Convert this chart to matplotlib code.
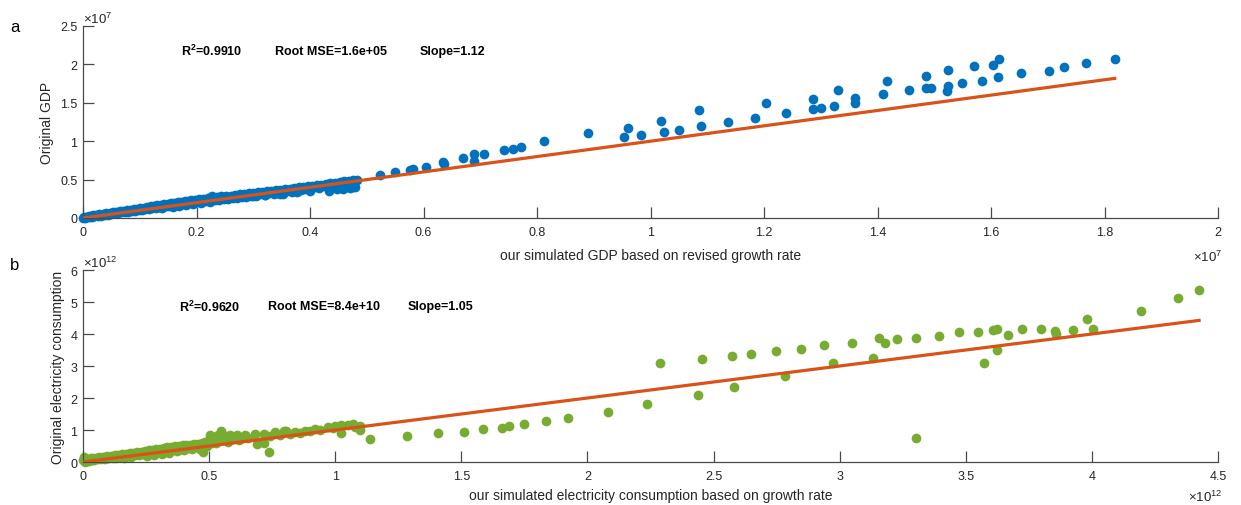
import matplotlib
matplotlib.use('Agg')
import matplotlib.pyplot as plt
from matplotlib.ticker import FuncFormatter

plt.rcParams['font.family'] = ['Liberation Sans', 'DejaVu Sans']
plt.rcParams['mathtext.default'] = 'regular'

GDP_UNIT = 1e7
ELEC_UNIT = 1e12

# ---- panel a: GDP (values in units of 1e7) ----
gdp_sim = [0.000, 0.002, 0.004, 0.006, 0.008, 0.010, 0.012, 0.014, 0.016, 0.018, 0.020, 0.023, 0.026, 0.029,
           0.032, 0.035, 0.038, 0.041, 0.044, 0.047, 0.050, 0.053, 0.056, 0.059, 0.062, 0.065, 0.068, 0.071,
           0.074, 0.077, 0.080, 0.083, 0.086, 0.089, 0.092, 0.095, 0.098, 0.101, 0.104, 0.107, 0.110, 0.113,
           0.116, 0.119, 0.122, 0.125, 0.128, 0.131, 0.134, 0.137, 0.140, 0.143, 0.146, 0.149, 0.152, 0.155,
           0.158, 0.161, 0.164, 0.167, 0.170, 0.173, 0.176, 0.179, 0.182, 0.185, 0.188, 0.191, 0.194, 0.197,
           0.200, 0.204, 0.208, 0.212, 0.216, 0.220, 0.224, 0.228, 0.232, 0.236, 0.240, 0.244, 0.248, 0.252,
           0.256, 0.260, 0.264, 0.268, 0.272, 0.276, 0.280, 0.284, 0.288, 0.292, 0.296, 0.300, 0.304, 0.308,
           0.312, 0.316, 0.320, 0.324, 0.328, 0.332, 0.336, 0.340, 0.344, 0.348, 0.353, 0.356, 0.360, 0.364,
           0.368, 0.372, 0.376, 0.380, 0.384, 0.388, 0.392, 0.396, 0.400, 0.404, 0.408, 0.412, 0.416, 0.420,
           0.424, 0.428, 0.433, 0.436, 0.440, 0.444, 0.448, 0.452, 0.456, 0.460, 0.464, 0.468, 0.472, 0.476,
           0.480, 0.483, 0.470, 0.300, 0.320, 0.347, 0.377, 0.400, 0.459, 0.476,
           0.523, 0.550, 0.577, 0.582, 0.604, 0.635, 0.637, 0.670, 0.689, 0.689, 0.707, 0.741, 0.758, 0.772,
           0.813, 0.889, 0.953, 0.961, 0.983, 1.018, 1.023, 1.051, 1.086, 1.089, 1.136, 1.184, 1.203, 1.239,
           1.287, 1.287, 1.300, 1.324, 1.331, 1.360, 1.360, 1.409, 1.417, 1.456, 1.485, 1.486, 1.495, 1.523,
           1.525, 1.525, 1.549, 1.570, 1.585, 1.603, 1.614, 1.613, 1.653, 1.702, 1.729, 1.768, 1.818]
gdp_orig = [0.004, 0.012, 0.002, 0.018, 0.008, 0.025, 0.014, 0.030, 0.010, 0.034, 0.022, 0.040, 0.028, 0.046,
            0.030, 0.052, 0.040, 0.060, 0.045, 0.066, 0.052, 0.072, 0.060, 0.080, 0.062, 0.088, 0.072, 0.094,
            0.078, 0.100, 0.084, 0.108, 0.088, 0.114, 0.096, 0.122, 0.100, 0.128, 0.108, 0.136, 0.112, 0.142,
            0.120, 0.150, 0.124, 0.156, 0.132, 0.164, 0.138, 0.172, 0.130, 0.188, 0.150, 0.184, 0.156, 0.192,
            0.148, 0.198, 0.170, 0.204, 0.160, 0.212, 0.180, 0.218, 0.172, 0.226, 0.192, 0.232, 0.186, 0.240,
            0.204, 0.246, 0.196, 0.252, 0.218, 0.260, 0.210, 0.282, 0.236, 0.272, 0.228, 0.280, 0.250, 0.286,
            0.244, 0.292, 0.262, 0.300, 0.256, 0.306, 0.278, 0.312, 0.272, 0.320, 0.292, 0.326, 0.288, 0.334,
            0.306, 0.340, 0.300, 0.348, 0.322, 0.356, 0.316, 0.362, 0.338, 0.370, 0.316, 0.378, 0.350, 0.384,
            0.340, 0.392, 0.368, 0.398, 0.360, 0.406, 0.384, 0.412, 0.376, 0.420, 0.400, 0.428, 0.392, 0.436,
            0.414, 0.444, 0.346, 0.452, 0.426, 0.460, 0.380, 0.468, 0.440, 0.476, 0.402, 0.484, 0.450, 0.490,
            0.402, 0.500, 0.390, 0.285, 0.300, 0.312, 0.335, 0.356, 0.378, 0.400,
            0.560, 0.603, 0.625, 0.638, 0.668, 0.725, 0.699, 0.777, 0.829, 0.746, 0.833, 0.885, 0.903, 0.920,
            1.003, 1.103, 1.050, 1.172, 1.077, 1.265, 1.120, 1.150, 1.404, 1.194, 1.246, 1.306, 1.501, 1.367,
            1.548, 1.419, 1.436, 1.462, 1.665, 1.561, 1.497, 1.613, 1.782, 1.661, 1.847, 1.687, 1.687, 1.657,
            1.713, 1.925, 1.756, 1.981, 1.786, 1.994, 2.067, 1.830, 1.890, 1.920, 1.964, 2.024, 2.067]
gdp_fit_slope = 1.0
gdp_stats = ['R$^2$=0.9910', 'Root MSE=1.6e+05', 'Slope=1.12']

# ---- panel b: electricity (values in units of 1e12) ----
elec_sim = [0.000, 0.005, 0.008, 0.010, 0.015, 0.020, 0.025, 0.030, 0.035, 0.040, 0.045, 0.050, 0.058, 0.065,
            0.072, 0.080, 0.088, 0.095, 0.102, 0.110, 0.118, 0.125, 0.132, 0.140, 0.148, 0.155, 0.162, 0.170,
            0.178, 0.185, 0.192, 0.200, 0.208, 0.215, 0.222, 0.230, 0.238, 0.245, 0.252, 0.260, 0.268, 0.275,
            0.282, 0.290, 0.297, 0.305, 0.312, 0.320, 0.328, 0.335, 0.342, 0.350, 0.358, 0.365, 0.372, 0.380,
            0.388, 0.395, 0.402, 0.410, 0.418, 0.425, 0.432, 0.440, 0.448, 0.455, 0.462, 0.470, 0.477, 0.485,
            0.492, 0.500, 0.505, 0.512, 0.520, 0.528, 0.535, 0.547, 0.555, 0.565, 0.575, 0.583, 0.595, 0.610,
            0.620, 0.643, 0.655, 0.683, 0.690, 0.696, 0.716, 0.716, 0.737, 0.740, 0.762, 0.780, 0.797, 0.806,
            0.820, 0.840, 0.860, 0.880, 0.900, 0.920, 0.940, 0.970, 0.990, 1.000, 1.024, 1.024, 1.050, 1.070,
            1.080, 1.098, 1.100,
            1.138, 1.285, 1.407, 1.512, 1.586, 1.661, 1.689, 1.748, 1.836, 1.922, 2.081, 2.235, 2.287, 2.440,
            2.455, 2.574, 2.580, 2.649, 2.748, 2.785, 2.848, 2.939, 2.973, 3.047, 3.132, 3.154, 3.179, 3.227,
            3.302, 3.302, 3.393, 3.475, 3.550, 3.572, 3.608, 3.625, 3.625, 3.666, 3.723, 3.798, 3.854, 3.857,
            3.926, 3.980, 4.006, 4.196, 4.343, 4.425]
elec_orig = [0.050, 0.150, 0.000, 0.080, 0.020, 0.100, 0.040, 0.110, 0.060, 0.120, 0.050, 0.140, 0.080, 0.150,
             0.100, 0.170, 0.090, 0.180, 0.120, 0.200, 0.130, 0.210, 0.110, 0.230, 0.160, 0.240, 0.140, 0.260,
             0.180, 0.270, 0.150, 0.290, 0.210, 0.300, 0.220, 0.320, 0.240, 0.340, 0.200, 0.360, 0.270, 0.380,
             0.220, 0.400, 0.300, 0.420, 0.250, 0.440, 0.330, 0.460, 0.280, 0.480, 0.380, 0.500, 0.330, 0.510,
             0.420, 0.520, 0.380, 0.530, 0.440, 0.540, 0.400, 0.550, 0.470, 0.560, 0.420, 0.580, 0.312, 0.620,
             0.500, 0.700, 0.830, 0.600, 0.780, 0.600, 0.850, 0.957, 0.700, 0.820, 0.640, 0.850, 0.720, 0.830,
             0.680, 0.850, 0.760, 0.875, 0.550, 0.624, 0.875, 0.600, 0.312, 0.800, 0.940, 0.850, 0.957, 0.970,
             0.880, 0.940, 0.920, 0.960, 0.980, 1.040, 1.000, 1.080, 1.050, 1.140, 1.170, 0.894, 1.170, 1.190,
             1.100, 1.009, 1.120,
             0.728, 0.801, 0.894, 0.946, 1.019, 1.071, 1.113, 1.175, 1.279, 1.383, 1.560, 1.809, 3.109, 2.080,
             3.213, 3.307, 2.350, 3.390, 3.483, 2.683, 3.535, 3.650, 3.099, 3.723, 3.265, 3.879, 3.733, 3.847,
             0.749, 3.879, 3.941, 4.076, 4.076, 3.109, 4.128, 4.170, 3.504, 3.983, 4.159, 4.149, 4.107, 3.993,
             4.128, 4.461, 4.159, 4.710, 5.137, 5.376]
elec_fit_slope = 1.0
elec_stats = ['R$^2$=0.9620', 'Root MSE=8.4e+10', 'Slope=1.05']

# tick values
gdp_xticks = [0, 0.2, 0.4, 0.6, 0.8, 1, 1.2, 1.4, 1.6, 1.8, 2]
gdp_yticks = [0, 0.5, 1, 1.5, 2, 2.5]
elec_xticks = [0, 0.5, 1, 1.5, 2, 2.5, 3, 3.5, 4, 4.5]
elec_yticks = [0, 1, 2, 3, 4, 5, 6]

BLUE = '#0072BD'
GREEN = '#77AC30'
RED = '#D95319'
AXC = '#262626'
LINEC = '#4a4a4a'

W, H = 1241, 506
fig = plt.figure(figsize=(W / 100, H / 100), dpi=100)


def style(ax, unit, xt, yt):
    for s in ['top', 'right']:
        ax.spines[s].set_visible(False)
    for s in ['left', 'bottom']:
        ax.spines[s].set_color(LINEC)
        ax.spines[s].set_linewidth(0.9)
    ax.set_xticks([v * unit for v in xt])
    ax.set_yticks([v * unit for v in yt])
    fmt = FuncFormatter(lambda v, p: '%g' % round(v / unit, 6))
    ax.xaxis.set_major_formatter(fmt)
    ax.yaxis.set_major_formatter(fmt)
    ax.set_xlim(xt[0] * unit, xt[-1] * unit)
    ax.set_ylim(yt[0] * unit, yt[-1] * unit)
    ax.tick_params(direction='in', length=8, width=0.9, color=LINEC, labelcolor=AXC, labelsize=9)
    ax.tick_params(axis='x', pad=6)
    ax.tick_params(axis='y', pad=4)


def panel(rect, xs, ys, unit, color, slope, stats, stat_pos, xt, yt, xlabel, ylabel, exp, ylab_x, xpad):
    ax = fig.add_axes(rect)
    style(ax, unit, xt, yt)
    xv = [v * unit for v in xs]
    yv = [v * unit for v in ys]
    ax.plot(xv, yv, 'o', color=color, ms=7, mec='none', clip_on=False, zorder=2)
    lx = [min(xv), max(xv)]
    ax.plot(lx, [slope * v for v in lx], '-', color=RED, lw=2.3, zorder=3)
    for (sx, sy), t in zip(stat_pos, stats):
        ax.text(sx, sy, t, transform=ax.transAxes, fontsize=9, fontweight='bold',
                ha='left', va='center', color='black')
    ax.set_xlabel(xlabel, fontsize=10, color=AXC, labelpad=xpad)
    ax.set_ylabel(ylabel, fontsize=10, color=AXC)
    ax.yaxis.label.set_verticalalignment('center')
    ax.yaxis.set_label_coords(ylab_x, 0.5)
    ax.text(0.0, 1.0, r'$\times$10$^{%d}$' % exp, transform=ax.transAxes, fontsize=9.5,
            color=AXC, ha='left', va='bottom')
    return ax


ax1 = panel([83 / W, 1 - 219 / H, 1135 / W, 192 / H], gdp_sim, gdp_orig, GDP_UNIT, BLUE,
            gdp_fit_slope, gdp_stats, [(0.086, 0.871), (0.169, 0.871), (0.297, 0.871)],
            gdp_xticks, gdp_yticks, 'our simulated GDP based on revised growth rate', 'Original GDP', 7,
            (47 - 83) / 1135, 7.0)
ax2 = panel([83 / W, 1 - 463 / H, 1135 / W, 192 / H], elec_sim, elec_orig, ELEC_UNIT, GREEN,
            elec_fit_slope, elec_stats, [(0.0846, 0.8125), (0.163, 0.8125), (0.286, 0.8125)],
            elec_xticks, elec_yticks, 'our simulated electricity consumption based on growth rate',
            'Original electricity consumption', 12, (58 - 83) / 1135, 3.8)

# x-axis exponent labels at the lower right
fig.text(1222 / W, 1 - 257 / H, r'$\times$10$^{7}$', fontsize=9.5, color=AXC, ha='right', va='center')
fig.text(1222 / W, 1 - 497 / H, r'$\times$10$^{12}$', fontsize=9.5, color=AXC, ha='right', va='center')

fig.text(15 / W, 1 - 27 / H, 'a', fontsize=12, color='black', ha='center', va='center')
fig.text(15 / W, 1 - 266 / H, 'b', fontsize=12, color='black', ha='center', va='center')

fig.savefig('out.png', dpi=100)
